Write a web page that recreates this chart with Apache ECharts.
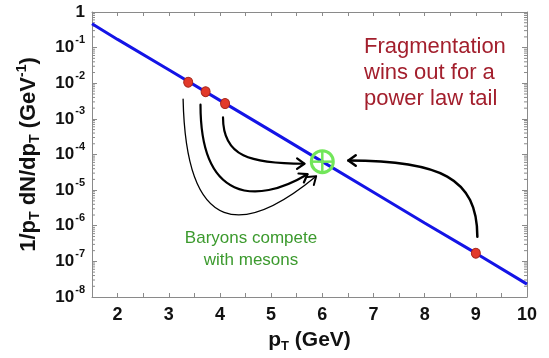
<!DOCTYPE html>
<html>
<head>
<meta charset="utf-8">
<script src="https://cdn.jsdelivr.net/npm/echarts@6/dist/echarts.min.js"></script>
<style>
  html, body { margin: 0; padding: 0; background: #fff; }
  #chart { width: 549px; height: 358px; }
</style>
</head>
<body>
<div id="chart"></div>
<script>
// Spectrum: exponential fall-off of 1/pT dN/dpT versus pT
const lineX = [1.5, 2, 3, 4, 5, 6, 7, 8, 9, 10];
const lineY = [0.47, 0.17, 0.024, 3.3e-3, 4.6e-4, 6.3e-5, 8.7e-6, 1.2e-6, 1.7e-7, 2.3e-8];

// Hadrons sitting on the spectrum
const dotX = [3.38, 3.72, 4.10, 9.0];
const dotY = [1.07e-2, 5.8e-3, 2.7e-3, 1.7e-7];

// Target point (circled cross)
const targetX = [6.0];
const targetY = [6.3e-5];

// Curved arrows: cubic Bezier control points [pT, value], last point is the tip
const arrowPaths = [
  [[4.06, 1.10e-3], [4.06, 8.7e-5], [4.59, 5.6e-5], [5.65, 5.5e-5]],
  [[3.62, 2.5e-3], [3.62, 5.1e-6], [4.69, 3.7e-6], [5.71, 2.8e-5]],
  [[3.28, 3.6e-3], [3.34, 4.1e-7], [4.49, 5.5e-7], [5.88, 2.45e-5]],
  [[9.03, 4.9e-7], [9.03, 2.2e-5], [8.30, 6.8e-5], [6.51, 6.8e-5]]
];
const arrowWidths = [2.2, 2.2, 1.3, 2.5];

// Tick labels
const xTickLabels = [2, 3, 4, 5, 6, 7, 8, 9, 10];
const yExponents = [0, -1, -2, -3, -4, -5, -6, -7, -8];

const FONT = "'Liberation Sans', Arial, Helvetica, sans-serif";
const AXIS_GRAY = '#8a8a8a';

// log-spaced minor ticks (2..9 x 10^n)
const minorTicks = [];
for (let n = -8; n < 0; n++) {
  for (let k = 2; k <= 9; k++) minorTicks.push(k * Math.pow(10, n));
}

const chart = echarts.init(document.getElementById('chart'), null, { renderer: 'canvas' });

const yLabelRich = {
  b: { fontSize: 17, fontWeight: 'bold', fontFamily: FONT, color: '#111', verticalAlign: 'middle' },
  s: { fontSize: 11, fontWeight: 'bold', fontFamily: FONT, color: '#111', verticalAlign: 'middle', padding: [0, 0, 15, 1] }
};

function titleRich(size) {
  const small = Math.round(size * 0.62);
  return {
    b: { fontSize: size, fontWeight: 'bold', fontFamily: FONT, color: '#111', verticalAlign: 'middle' },
    sub: { fontSize: small, fontWeight: 'bold', fontFamily: FONT, color: '#111', verticalAlign: 'middle', padding: [13, 0, 0, 0] },
    sup: { fontSize: small, fontWeight: 'bold', fontFamily: FONT, color: '#111', verticalAlign: 'middle', padding: [0, 0, 13, 0] }
  };
}

const commonX = {
  type: 'value', min: 1.5, max: 10, interval: 0.5,
  axisLine: { show: true, onZero: false, lineStyle: { color: AXIS_GRAY, width: 1 } },
  axisTick: { show: true, inside: true, length: 4, lineStyle: { color: AXIS_GRAY } },
  splitLine: { show: false }
};
const commonY = {
  type: 'log', logBase: 10, min: 1e-8, max: 1, interval: 1,
  axisLine: { show: true, onZero: false, lineStyle: { color: AXIS_GRAY, width: 1 } },
  axisTick: { show: true, inside: true, length: 5, lineStyle: { color: AXIS_GRAY } },
  splitLine: { show: false }
};

chart.setOption({
  animation: false,
  backgroundColor: '#fff',
  grid: { left: 92, right: 22, top: 12, bottom: 54 },
  xAxis: [
    Object.assign({}, commonX, {
      position: 'bottom',
      axisLabel: {
        margin: 9, fontSize: 18, fontWeight: 'bold', fontFamily: FONT, color: '#111',
        formatter: v => (xTickLabels.indexOf(v) >= 0 ? String(v) : '')
      },
      name: '{b|p}{sub|T}{b| (GeV)}',
      nameLocation: 'middle', nameGap: 30,
      nameTextStyle: { rich: titleRich(21) }
    }),
    Object.assign({}, commonX, { position: 'top', axisLabel: { show: false } })
  ],
  yAxis: [
    Object.assign({}, commonY, {
      position: 'left',
      axisLabel: {
        margin: 7,
        formatter: v => {
          const e = Math.round(Math.log10(v));
          if (yExponents.indexOf(e) < 0) return '';
          return e === 0 ? '{b|1}' : '{b|10}{s|' + e + '}';
        },
        rich: yLabelRich
      },
      name: '{b|1/p}{sub|T}{b| dN/dp}{sub|T}{b| (GeV}{sup|-1}{b|)}',
      nameLocation: 'middle', nameGap: 50,
      nameTextStyle: { rich: titleRich(22) }
    }),
    Object.assign({}, commonY, { position: 'right', axisLabel: { show: false } })
  ],
  graphic: [
    {
      type: 'text', x: 364, y: 34, z: 10,
      style: {
        text: 'Fragmentation\nwins out for a\npower law tail',
        font: '22px ' + FONT, fill: '#a31f2d', lineHeight: 26,
        align: 'left', verticalAlign: 'top'
      }
    },
    {
      type: 'text', x: 251, y: 227, z: 10,
      style: {
        text: 'Baryons compete\nwith mesons',
        font: '17px ' + FONT, fill: '#3c9a2e', lineHeight: 22,
        align: 'center', verticalAlign: 'top'
      }
    }
  ],
  series: [
    {
      // log minor ticks on left and right frame edges
      type: 'custom', xAxisIndex: 0, yAxisIndex: 0, silent: true, z: 1,
      data: minorTicks.map(v => [1.5, v]),
      renderItem: (params, api) => {
        const v = api.value(1);
        const l = api.coord([1.5, v]);
        const r = api.coord([10, v]);
        const st = { stroke: AXIS_GRAY, lineWidth: 1 };
        return {
          type: 'group',
          children: [
            { type: 'line', shape: { x1: l[0], y1: l[1], x2: l[0] + 3, y2: l[1] }, style: st },
            { type: 'line', shape: { x1: r[0] - 3, y1: r[1], x2: r[0], y2: r[1] }, style: st }
          ]
        };
      }
    },
    {
      type: 'line', xAxisIndex: 0, yAxisIndex: 0, z: 2,
      data: lineX.map((x, i) => [x, lineY[i]]),
      showSymbol: false, symbol: 'none',
      lineStyle: { color: '#1414e6', width: 3 }
    },
    {
      // curved arrows
      type: 'custom', xAxisIndex: 0, yAxisIndex: 0, silent: true, z: 3,
      data: arrowPaths.map((p, i) => [p[3][0], p[3][1], i]),
      renderItem: (params, api) => {
        const idx = api.value(2);
        const pts = arrowPaths[idx].map(p => api.coord(p));
        const w = arrowWidths[idx];
        const tip = pts[3];
        const dx = tip[0] - pts[2][0], dy = tip[1] - pts[2][1];
        const ang = Math.atan2(dy, dx);
        const len = 9, spread = 0.62;
        const a1 = [tip[0] - len * Math.cos(ang - spread), tip[1] - len * Math.sin(ang - spread)];
        const a2 = [tip[0] - len * Math.cos(ang + spread), tip[1] - len * Math.sin(ang + spread)];
        const st = { stroke: '#000', lineWidth: w, fill: null, lineCap: 'round', lineJoin: 'round' };
        return {
          type: 'group',
          children: [
            {
              type: 'bezierCurve',
              shape: {
                x1: pts[0][0], y1: pts[0][1],
                cpx1: pts[1][0], cpy1: pts[1][1],
                cpx2: pts[2][0], cpy2: pts[2][1],
                x2: tip[0], y2: tip[1]
              },
              style: st
            },
            {
              type: 'polyline',
              shape: { points: [a1, tip, a2] },
              style: { stroke: '#000', lineWidth: Math.max(w, 2), fill: null, lineCap: 'round', lineJoin: 'round' }
            }
          ]
        };
      }
    },
    {
      type: 'scatter', xAxisIndex: 0, yAxisIndex: 0, z: 4,
      data: dotX.map((x, i) => [x, dotY[i]]),
      symbol: 'circle', symbolSize: [9, 10],
      itemStyle: { color: '#e2392a', borderColor: '#a8261a', borderWidth: 1, opacity: 1 }
    },
    {
      // circled cross marking the common pT
      type: 'custom', xAxisIndex: 0, yAxisIndex: 0, silent: true, z: 5,
      data: targetX.map((x, i) => [x, targetY[i]]),
      renderItem: (params, api) => {
        const c = api.coord([api.value(0), api.value(1)]);
        const r = 11;
        const st = { stroke: '#72e65a', lineWidth: 3, fill: null };
        return {
          type: 'group',
          children: [
            { type: 'circle', shape: { cx: c[0], cy: c[1], r: r }, style: st },
            { type: 'line', shape: { x1: c[0] - r, y1: c[1], x2: c[0] + r, y2: c[1] }, style: { stroke: '#72e65a', lineWidth: 2.5 } },
            { type: 'line', shape: { x1: c[0], y1: c[1] - r, x2: c[0], y2: c[1] + r }, style: { stroke: '#72e65a', lineWidth: 2.5 } }
          ]
        };
      }
    }
  ]
});
</script>
</body>
</html>
